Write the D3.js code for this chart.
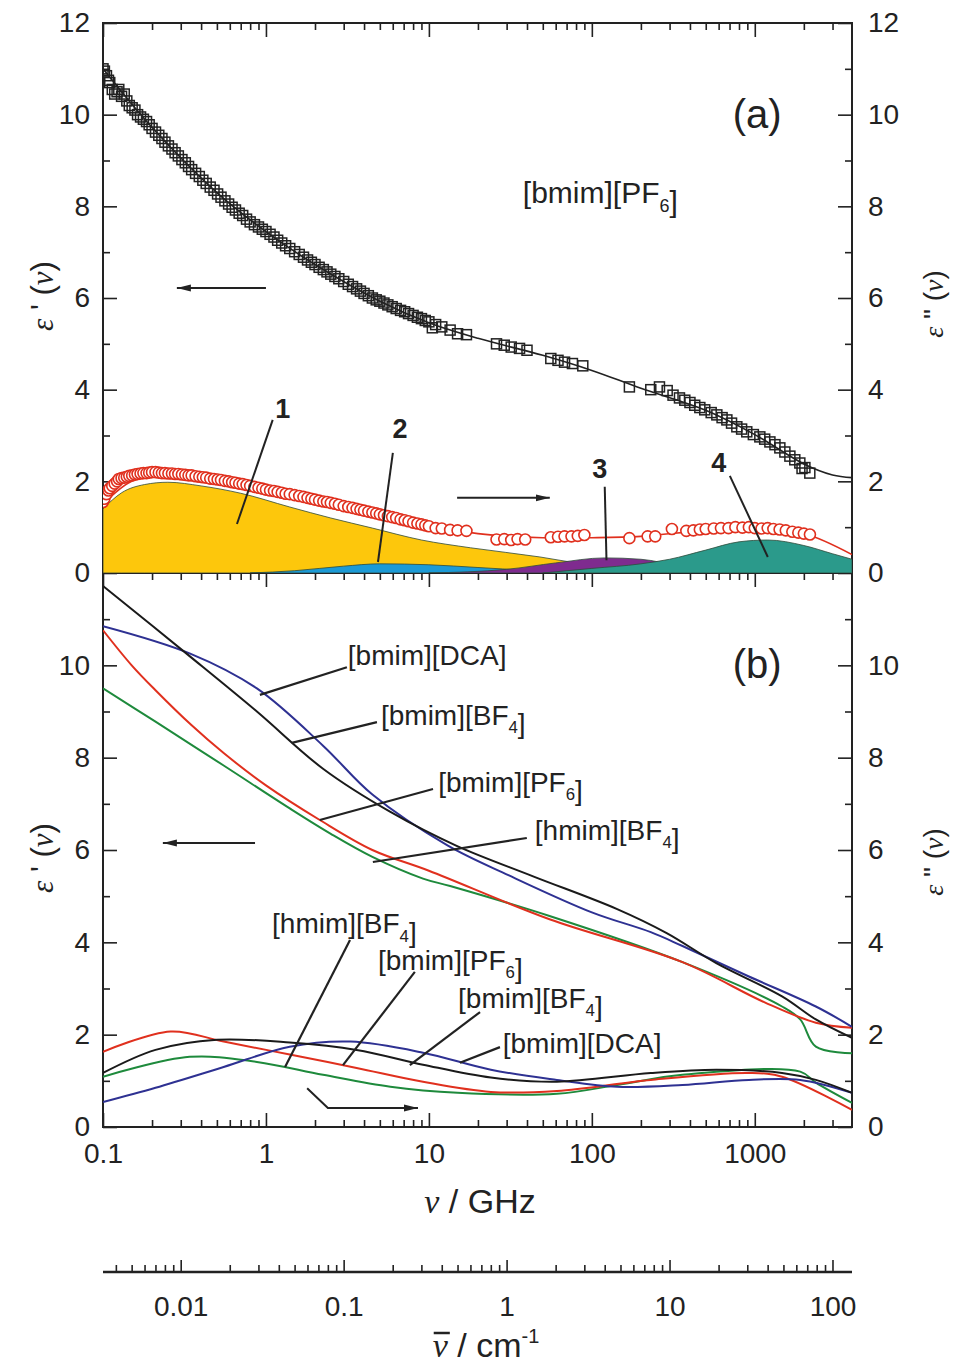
<!DOCTYPE html>
<html>
<head>
<meta charset="utf-8">
<script src="https://cdn.jsdelivr.net/npm/d3@7"></script>
<style>
body { margin: 0; background: #fff; }
svg { display: block; font-family: "Liberation Sans", Arial, sans-serif; }
</style>
</head>
<body>
<div id="chart"></div>
<script>
//Tick values for the frequency (GHz) and wavenumber (cm-1) axes
var freqTicks = [0.1, 1, 10, 100, 1000];
var freqMinor = [0.2, 0.3, 0.4, 0.5, 0.6, 0.7, 0.8, 0.9, 2, 3, 4, 5, 6, 7, 8, 9,
    20, 30, 40, 50, 60, 70, 80, 90, 200, 300, 400, 500, 600, 700, 800, 900, 2000, 3000];
var wnTicks = [0.01, 0.1, 1, 10, 100];
var wnMinor = [0.004, 0.005, 0.006, 0.007, 0.008, 0.009, 0.02, 0.03, 0.04, 0.05, 0.06, 0.07, 0.08, 0.09,
    0.2, 0.3, 0.4, 0.5, 0.6, 0.7, 0.8, 0.9, 2, 3, 4, 5, 6, 7, 8, 9, 20, 30, 40, 50, 60, 70, 80, 90];
var yTicksA = [0, 2, 4, 6, 8, 10, 12];
var yTicksB = [0, 2, 4, 6, 8, 10];
var yMinor = [1, 3, 5, 7, 9, 11];

//Panel (a): [bmim][PF6] measured eps' (squares), [GHz, value]
var pf6Real = [[0.1,11.0],[0.102,10.95],[0.105,10.85],[0.108,10.75],[0.11,10.7],[0.114,10.55],[0.118,10.45],
    [0.122,10.5],[0.125,10.55],[0.13,10.4],[0.135,10.45],[0.14,10.3],[0.145,10.2],[0.151,10.15],[0.157,10.1],
    [0.163,10.0],[0.17,9.95],[0.177,9.9],[0.185,9.85],[0.192,9.78],[0.2,9.7],[0.21,9.62],[0.22,9.55],
    [0.23,9.48],[0.24,9.4],[0.252,9.32],[0.265,9.25],[0.277,9.17],[0.29,9.1],[0.305,9.02],[0.32,8.95],
    [0.335,8.87],[0.35,8.8],[0.37,8.72],[0.39,8.65],[0.41,8.57],[0.43,8.5],[0.455,8.42],[0.48,8.35],
    [0.505,8.27],[0.53,8.2],[0.56,8.12],[0.59,8.05],[0.62,7.98],[0.65,7.92],[0.685,7.85],[0.72,7.8],
    [0.76,7.72],[0.8,7.66],[0.85,7.6],[0.9,7.55],[0.95,7.5],[1.0,7.45],[1.06,7.39],[1.12,7.33],[1.18,7.26],
    [1.25,7.2],[1.32,7.14],[1.4,7.08],[1.5,7.01],[1.6,6.95],[1.7,6.89],[1.8,6.83],[1.9,6.78],[2.0,6.73],
    [2.12,6.67],[2.25,6.62],[2.37,6.57],[2.5,6.52],[2.65,6.47],[2.8,6.42],[3.0,6.36],[3.2,6.3],[3.4,6.25],
    [3.6,6.2],[3.8,6.15],[4.0,6.1],[4.25,6.05],[4.5,6.0],[4.75,5.96],[5.0,5.93],[5.3,5.89],[5.6,5.85],
    [5.95,5.81],[6.3,5.77],[6.7,5.73],[7.1,5.7],[7.5,5.66],[8.0,5.62],[8.5,5.58],[9.0,5.55],[9.5,5.51],
    [10,5.48],[10.5,5.35],[11,5.42],[12,5.37],[13.5,5.3],[15,5.22],[17,5.2],
    [26,5.0],[29,4.97],[32,4.93],[36,4.9],[40,4.86],[56,4.68],[62,4.64],[68,4.6],[76,4.57],[88,4.52],
    [170,4.06],[230,4.0],[260,4.06],[290,3.98],[315,3.88],[345,3.82],[372,3.77],[400,3.72],[428,3.66],
    [460,3.61],[493,3.56],[540,3.5],[585,3.45],[630,3.39],[674,3.34],[720,3.27],[776,3.19],[830,3.14],
    [893,3.08],[980,3.02],[1074,2.97],[1150,2.92],[1238,2.86],[1330,2.8],[1425,2.73],[1530,2.64],
    [1642,2.55],[1760,2.47],[1890,2.4],[1950,2.28],[2030,2.3],[2176,2.18]];
//fit through eps'
var pf6RealFit = [[0.1,11.0],[0.2,9.72],[0.5,8.3],[1,7.45],[2,6.73],[5,5.93],[10,5.46],[20,5.12],[50,4.75],
    [100,4.42],[200,4.03],[500,3.55],[1000,3.02],[2000,2.38],[3000,2.14],[3950,2.08]];

//Panel (a): measured eps'' (circles) and fit
var pf6Imag = [[0.1,1.55],[0.102,1.62],[0.105,1.72],[0.108,1.8],[0.11,1.85],[0.114,1.9],[0.118,1.95],
    [0.122,2.0],[0.125,2.05],[0.13,2.07],[0.135,2.08],[0.14,2.1],[0.145,2.12],[0.151,2.13],[0.157,2.15],
    [0.163,2.16],[0.17,2.17],[0.177,2.18],[0.185,2.18],[0.192,2.19],[0.2,2.2],[0.21,2.2],[0.22,2.19],
    [0.23,2.18],[0.24,2.18],[0.252,2.17],[0.265,2.17],[0.277,2.16],[0.29,2.16],[0.305,2.15],[0.32,2.14],
    [0.335,2.13],[0.35,2.13],[0.37,2.11],[0.39,2.1],[0.41,2.09],[0.43,2.08],[0.455,2.06],[0.48,2.05],
    [0.505,2.04],[0.53,2.03],[0.56,2.01],[0.59,2.0],[0.62,1.98],[0.65,1.97],[0.685,1.95],[0.72,1.94],
    [0.76,1.92],[0.8,1.9],[0.85,1.88],[0.9,1.86],[0.95,1.84],[1.0,1.82],[1.06,1.8],[1.12,1.79],[1.18,1.77],
    [1.25,1.75],[1.32,1.73],[1.4,1.72],[1.5,1.7],[1.6,1.68],[1.7,1.66],[1.8,1.64],[1.9,1.62],[2.0,1.6],
    [2.12,1.58],[2.25,1.56],[2.37,1.55],[2.5,1.53],[2.65,1.51],[2.8,1.49],[3.0,1.46],[3.2,1.44],[3.4,1.42],
    [3.6,1.4],[3.8,1.38],[4.0,1.36],[4.25,1.34],[4.5,1.32],[4.75,1.3],[5.0,1.28],[5.3,1.26],[5.6,1.24],
    [5.95,1.22],[6.3,1.2],[6.7,1.17],[7.1,1.15],[7.5,1.13],[8.0,1.1],[8.5,1.08],[9.0,1.06],[9.5,1.04],
    [10,1.02],[11,0.98],[12,0.97],[13.5,0.94],[15,0.93],[17,0.92],
    [26,0.73],[29,0.74],[32,0.72],[35,0.74],[39,0.73],[56,0.78],[62,0.79],[68,0.8],[75,0.8],[82,0.81],
    [90,0.83],[170,0.76],[220,0.8],[245,0.8],[310,0.96],[380,0.92],[420,0.93],[460,0.95],[500,0.96],
    [560,0.97],[620,0.98],[690,0.98],[760,1.0],[840,0.99],[920,1.0],[1000,0.98],[1100,0.97],[1200,0.98],
    [1300,0.96],[1420,0.95],[1550,0.93],[1700,0.9],[1850,0.88],[2000,0.86],[2180,0.84]];
var pf6ImagFit = [[0.1,1.5],[0.15,2.0],[0.25,2.17],[0.5,2.05],[1,1.82],[2,1.6],[5,1.3],[10,1.03],[20,0.86],
    [50,0.77],[100,0.77],[200,0.8],[500,0.93],[1000,0.97],[2000,0.86],[3950,0.4]];

//Panel (a): relaxation modes 1-4 (filled)
var mode1 = [[0.1,1.4],[0.13,1.75],[0.18,1.93],[0.25,1.98],[0.4,1.9],[0.7,1.74],[1.4,1.44],[2.5,1.2],
    [4.5,0.98],[9,0.72],[18,0.55],[48,0.35],[80,0.22],[150,0.1],[300,0.02],[500,0]];
var mode2 = [[0.8,0],[1.5,0.05],[3,0.15],[5,0.2],[10,0.18],[20,0.12],[40,0.06],[80,0.02],[150,0]];
var mode3 = [[10,0],[30,0.08],[60,0.22],[120,0.33],[200,0.3],[350,0.15],[600,0.05],[1000,0]];
var mode4 = [[50,0],[100,0.1],[200,0.2],[300,0.3],[500,0.5],[800,0.68],[1200,0.72],[2000,0.6],
    [3000,0.42],[3950,0.3]];
var modeNames = ["1", "2", "3", "4"];
var modeColors = ["#fdc70c", "#1c9ad6", "#7f2b8f", "#2b9a8b"];

//Panel (b): fitted spectra of four ionic liquids
var liquids = ["[bmim][DCA]", "[bmim][BF4]", "[bmim][PF6]", "[hmim][BF4]"];
var liquidColors = ["#2e3192", "#1a1a1a", "#e0301e", "#1e8a3c"];
var realDCA = [[0.1,10.85],[0.34,10.26],[0.88,9.5],[2.24,8.26],[4.5,7.2],[13,6.1],[31,5.45],[100,4.65],
    [230,4.22],[360,3.92],[920,3.26],[2370,2.61],[3950,2.17]];
var realBF4 = [[0.1,11.72],[0.34,10.2],[0.88,9.0],[2.24,7.76],[5.77,6.83],[14.8,6.09],[43.6,5.43],
    [143,4.72],[288,4.2],[580,3.55],[1470,2.83],[2370,2.33],[3950,1.93]];
var realPF6 = [[0.1,10.76],[0.15,10.0],[0.21,9.46],[0.35,8.7],[0.55,8.1],[1.0,7.4],[2.14,6.65],[4.5,6.0],
    [10,5.55],[55,4.5],[360,3.57],[1150,2.7],[2370,2.26],[3950,2.15]];
var realHmim = [[0.1,9.5],[0.21,8.78],[0.55,7.83],[1.4,6.9],[2.5,6.35],[4.5,5.85],[9.2,5.38],[13.5,5.22],
    [55,4.57],[360,3.57],[1470,2.61],[1900,2.33],[2370,1.74],[3950,1.6]];
var imagDCA = [[0.1,0.54],[0.21,0.85],[0.55,1.3],[1.4,1.74],[3.3,1.85],[9.2,1.61],[24,1.24],[61,1.02],
    [143,0.87],[360,0.91],[920,1.02],[1900,1.02],[3950,0.74]];
var imagBF4 = [[0.1,1.17],[0.21,1.67],[0.5,1.89],[1.4,1.83],[3.6,1.67],[9.2,1.35],[24,1.07],[61,0.98],
    [230,1.17],[580,1.24],[1470,1.17],[2370,1.02],[3950,0.74]];
var imagPF6 = [[0.1,1.63],[0.26,2.07],[0.55,1.85],[1.4,1.57],[3.6,1.28],[9.2,0.98],[24,0.76],[61,0.78],
    [230,1.02],[920,1.17],[1470,1.09],[3950,0.37]];
var imagHmim = [[0.1,1.09],[0.34,1.52],[0.88,1.41],[2.24,1.13],[5.8,0.87],[15,0.74],[61,0.72],[143,0.91],
    [360,1.13],[1900,1.2],[2370,0.96],[3950,0.52]];

var W = 953, H = 1363;
var svg = d3.select("#chart").append("svg").attr("width", W).attr("height", H);

//scales: shared log frequency axis, two stacked linear panels, wavenumber axis
var x = d3.scaleLog().domain([0.1, 3950]).range([103, 852]);
var yA = d3.scaleLinear().domain([0, 12]).range([573, 23]);
var yB = d3.scaleLinear().domain([0, 12]).range([1127, 573]);
var xWn = d3.scaleLog().domain([0.1 / 29.98, 3950 / 29.98]).range([103, 852]);

var ink = "#222";
var smooth = d3.curveCatmullRom.alpha(0.5);

//arrow head
svg.append("defs").append("marker")
    .attr("id", "head").attr("markerUnits", "userSpaceOnUse")
    .attr("markerWidth", 16).attr("markerHeight", 10)
    .attr("refX", 14).attr("refY", 5).attr("orient", "auto")
    .append("path").attr("d", "M0,1.5 L14,5 L0,8.5 Z").attr("fill", ink);

function axis(make, scale, vals, size, fmt, pad, tx, ty) {
    var g = svg.append("g")
        .attr("transform", "translate(" + tx + "," + ty + ")")
        .call(make(scale).tickValues(vals).tickSizeInner(size).tickSizeOuter(0)
            .tickPadding(pad).tickFormat(fmt || function(){ return ""; }));
    g.select(".domain").remove();
    g.attr("font-size", 28).attr("font-family", "'Liberation Sans', Arial, sans-serif");
    g.selectAll("line").attr("stroke", ink).attr("stroke-width", 1.6);
    g.selectAll("text").attr("fill", ink);
    return g;
}
var fmtF = function(d){ return d < 1 ? String(d) : d3.format("d")(d); };
var fmtY = d3.format("d");

//Panel frames and ticks
[[yA, yTicksA], [yB, yTicksB]].forEach(function(p, i){
    var y = p[0];
    axis(d3.axisLeft, y, p[1], -14, fmtY, 13, 103, 0);
    axis(d3.axisLeft, y, yMinor, -7, null, 0, 103, 0);
    axis(d3.axisRight, y, p[1], -14, fmtY, 16, 852, 0);
    axis(d3.axisRight, y, yMinor, -7, null, 0, 852, 0);
    var top = y.range()[1], bot = y.range()[0];
    axis(d3.axisTop, x, freqTicks, -14, null, 0, 0, top);
    axis(d3.axisTop, x, freqMinor, -7, null, 0, 0, top);
    axis(d3.axisBottom, x, freqTicks, -14, i == 1 ? fmtF : null, 16, 0, bot);
    axis(d3.axisBottom, x, freqMinor, -7, null, 0, 0, bot);
    svg.append("rect").attr("x", 103).attr("y", top).attr("width", 749).attr("height", bot - top)
        .attr("fill", "none").attr("stroke", ink).attr("stroke-width", 2);
});

//wavenumber axis
svg.append("line").attr("x1", 103).attr("x2", 852).attr("y1", 1272).attr("y2", 1272)
    .attr("stroke", ink).attr("stroke-width", 2.5);
axis(d3.axisBottom, xWn, wnTicks, -12, fmtF, 24, 0, 1272);
axis(d3.axisBottom, xWn, wnMinor, -7, null, 0, 0, 1272);

//clip regions
var defs = svg.select("defs");
defs.append("clipPath").attr("id", "clipA").append("rect").attr("x", 103).attr("y", 23).attr("width", 749).attr("height", 550);
defs.append("clipPath").attr("id", "clipB").append("rect").attr("x", 103).attr("y", 573).attr("width", 749).attr("height", 554);

// ---------- panel (a) ----------
var gA = svg.append("g").attr("clip-path", "url(#clipA)");
var areaA = d3.area().x(function(d){ return x(d[0]); }).y0(yA(0)).y1(function(d){ return yA(d[1]); })
    .curve(d3.curveMonotoneX);
var lineA = d3.line().x(function(d){ return x(d[0]); }).y(function(d){ return yA(d[1]); })
    .curve(smooth);

[mode1, mode2, mode3, mode4].forEach(function(m, i){
    gA.append("path").datum(m).attr("d", areaA)
        .attr("fill", modeColors[i]).attr("stroke", "#2f4a3a").attr("stroke-width", 0.8);
});

gA.append("path").datum(pf6ImagFit).attr("d", lineA)
    .attr("fill", "none").attr("stroke", "#e0301e").attr("stroke-width", 1.6);
gA.selectAll("circle.im").data(pf6Imag).enter().append("circle")
    .attr("cx", function(d){ return x(d[0]); }).attr("cy", function(d){ return yA(d[1]); })
    .attr("r", 5.5).attr("fill", "#fff").attr("stroke", "#e0301e").attr("stroke-width", 1.6);

gA.append("path").datum(pf6RealFit).attr("d", lineA)
    .attr("fill", "none").attr("stroke", ink).attr("stroke-width", 1.6);
gA.selectAll("rect.re").data(pf6Real).enter().append("rect")
    .attr("x", function(d){ return x(d[0]) - 5; }).attr("y", function(d){ return yA(d[1]) - 5; })
    .attr("width", 10).attr("height", 10)
    .attr("fill", "none").attr("stroke", ink).attr("stroke-width", 1.5);

function seg(y, a, b, arrow) {
    var l = svg.append("line")
        .attr("x1", x(a[0])).attr("y1", y(a[1])).attr("x2", x(b[0])).attr("y2", y(b[1]))
        .attr("stroke", ink).attr("stroke-width", 2);
    if (arrow) l.attr("marker-end", "url(#head)");
    return l;
}
function chem(px, py, name, size) {
    var t = svg.append("text").attr("x", px).attr("y", py).attr("font-size", size).attr("fill", ink);
    name.split(/(\d)/).forEach(function(s){
        if (!s) return;
        if (/^\d$/.test(s)) {
            t.append("tspan").attr("font-size", size * 0.6).attr("dy", size * 0.3).text(s);
            t.append("tspan").attr("dy", -size * 0.3).text("");
        } else {
            t.append("tspan").text(s);
        }
    });
    return t;
}

//mode numbers with leader lines: [label pos, line start, line end]
var modeNotes = [
    [[1.27, 3.38], [1.10, 3.34], [0.664, 1.07]],
    [[6.64, 2.95], [6.01, 2.62], [4.87, 0.24]],
    [[112, 2.07], [120, 1.88], [123, 0.28]],
    [[601, 2.2], [703, 2.12], [1202, 0.35]]
];
modeNotes.forEach(function(n, i){
    svg.append("text").attr("x", x(n[0][0])).attr("y", yA(n[0][1])).attr("text-anchor", "middle")
        .attr("font-size", 27).attr("font-weight", "bold").attr("fill", ink).text(modeNames[i]);
    seg(yA, n[1], n[2], false);
});
seg(yA, [1.0, 6.22], [0.284, 6.22], true);
seg(yA, [14.9, 1.64], [55.2, 1.64], true);

svg.append("text").attr("x", x(733)).attr("y", yA(9.7)).attr("font-size", 40).attr("fill", ink).text("(a)");
chem(x(37.7), yA(8.07), liquids[2], 30);

// ---------- panel (b) ----------
var gB = svg.append("g").attr("clip-path", "url(#clipB)");
var lineB = d3.line().x(function(d){ return x(d[0]); }).y(function(d){ return yB(d[1]); })
    .curve(smooth);
var realSets = [realDCA, realBF4, realPF6, realHmim];
var imagSets = [imagDCA, imagBF4, imagPF6, imagHmim];
[3, 2, 0, 1].forEach(function(i){
    [realSets[i], imagSets[i]].forEach(function(s){
        gB.append("path").datum(s).attr("d", lineB)
            .attr("fill", "none").attr("stroke", liquidColors[i]).attr("stroke-width", 2);
    });
});

//labels for eps' curves: [text pos, line from curve, line to label]
var realNotes = [
    [[3.18, 10.0], [0.918, 9.36], [3.14, 9.96]],
    [[5.08, 8.71], [1.44, 8.32], [4.8, 8.77]],
    [[11.4, 7.26], [2.14, 6.65], [10.6, 7.32]],
    [[44.7, 6.22], [4.53, 5.74], [39.9, 6.26]]
];
var imagNotes = [
    [[28.4, 1.6], [15.5, 1.39], [27.3, 1.73]],
    [[15.1, 2.58], [7.64, 1.34], [20.6, 2.49]],
    [[4.87, 3.4], [2.97, 1.34], [8.2, 3.36]],
    [[1.09, 4.2], [1.31, 1.3], [3.28, 4.05]]
];
[realNotes, imagNotes].forEach(function(notes){
    notes.forEach(function(n, i){
        seg(yB, n[1], n[2], false).attr("stroke-width", 2.2);
        chem(x(n[0][0]), yB(n[0][1]), liquids[i], 28);
    });
});
seg(yB, [0.857, 6.15], [0.233, 6.15], true);
svg.append("path")
    .attr("d", d3.line()([[x(1.79), yB(0.84)], [x(2.4), yB(0.41)], [x(8.57), yB(0.41)]]))
    .attr("fill", "none").attr("stroke", ink).attr("stroke-width", 2).attr("marker-end", "url(#head)");
svg.append("text").attr("x", x(733)).attr("y", yB(9.72)).attr("font-size", 40).attr("fill", ink).text("(b)");

// ---------- axis titles ----------
function yTitle(px, py, mark, size) {
    var t = svg.append("text").attr("transform", "translate(" + px + "," + py + ") rotate(-90)")
        .attr("text-anchor", "middle").attr("dy", "0.35em").attr("font-size", size).attr("fill", ink);
    t.append("tspan").attr("font-family", "'Liberation Serif', serif").attr("font-style", "italic").text("\u03b5");
    t.append("tspan").text(mark + "(");
    t.append("tspan").attr("font-family", "'Liberation Serif', serif").attr("font-style", "italic").text("\u03bd");
    t.append("tspan").text(")");
}
yTitle(42, 296, " ' ", 31);
yTitle(42, 858, " ' ", 31);
yTitle(933, 304, " \" ", 28);
yTitle(933, 862, " \" ", 28);

var tx = svg.append("text").attr("x", 480).attr("y", 1213).attr("text-anchor", "middle")
    .attr("font-size", 34).attr("fill", ink);
tx.append("tspan").attr("font-family", "'Liberation Serif', serif").attr("font-style", "italic").text("\u03bd");
tx.append("tspan").text(" / GHz");

var tw = svg.append("text").attr("x", 486).attr("y", 1357).attr("text-anchor", "middle")
    .attr("font-size", 34).attr("fill", ink);
var nu = tw.append("tspan").attr("font-family", "'Liberation Serif', serif").attr("font-style", "italic").text("\u03bd");
tw.append("tspan").text(" / cm");
tw.append("tspan").attr("font-size", 20).attr("dy", -14).text("-1");
var nuLen = nu.node().getComputedTextLength();
var startX = 486 - tw.node().getComputedTextLength() / 2;
svg.append("line").attr("x1", startX + 1).attr("x2", startX + nuLen + 2)
    .attr("y1", 1333).attr("y2", 1333).attr("stroke", ink).attr("stroke-width", 2.5);
</script>
</body>
</html>
